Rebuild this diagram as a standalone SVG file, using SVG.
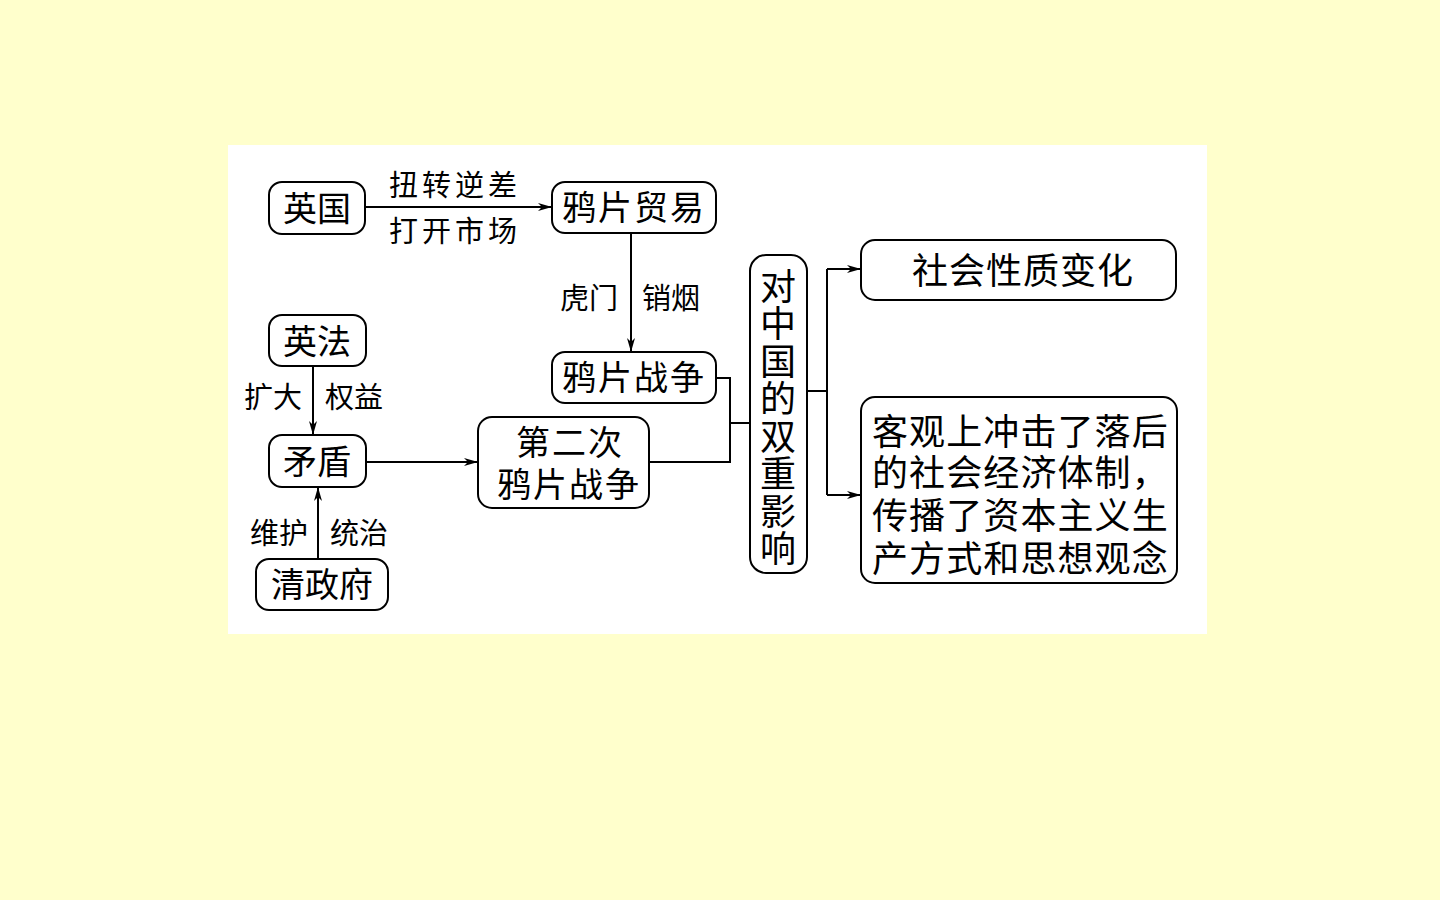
<svg xmlns="http://www.w3.org/2000/svg" width="1440" height="900" viewBox="0 0 1440 900">
  <defs>
    <marker id="arr" viewBox="0 0 14 8" refX="14" refY="4" markerWidth="14" markerHeight="8" markerUnits="userSpaceOnUse" orient="auto">
      <path d="M0,0 L14,4 L0,8 L4,4 Z" fill="#000"/>
    </marker>
    <style>
      .box { fill: #fff; stroke: #000; stroke-width: 2; }
      .t { font-family: "Noto Sans CJK SC", "Noto Sans", sans-serif; fill: #000; text-anchor: middle; }
      .n { font-size: 34px; }
      .l { font-size: 29px; }
      .b { font-size: 36px; }
      .ln { fill: none; stroke: #000; stroke-width: 2; }
    </style>
  </defs>

  <rect x="0" y="0" width="1440" height="900" fill="#FFFFCC"/>
  <rect x="228" y="145" width="979" height="489" fill="#fff"/>

  <!-- connectors -->
  <g id="connectors">
    <line class="ln" x1="366" y1="207" x2="552" y2="207" marker-end="url(#arr)"/>
    <line class="ln" x1="631" y1="233" x2="631" y2="352" marker-end="url(#arr)"/>
    <line class="ln" x1="313" y1="366" x2="313" y2="435" marker-end="url(#arr)"/>
    <line class="ln" x1="318" y1="559" x2="318" y2="487" marker-end="url(#arr)"/>
    <line class="ln" x1="366" y1="462" x2="478" y2="462" marker-end="url(#arr)"/>
    <polyline class="ln" points="716,378 730,378 730,462 649,462"/>
    <line class="ln" x1="730" y1="423" x2="750" y2="423"/>
    <line class="ln" x1="807" y1="391" x2="827" y2="391"/>
    <line class="ln" x1="827" y1="269" x2="827" y2="495"/>
    <line class="ln" x1="827" y1="269" x2="861" y2="269" marker-end="url(#arr)"/>
    <line class="ln" x1="827" y1="495" x2="861" y2="495" marker-end="url(#arr)"/>
  </g>

  <!-- connector labels -->
  <g id="labels" class="t l">
    <text x="455" y="196" letter-spacing="4">扭转逆差</text>
    <text x="455" y="242" letter-spacing="4">打开市场</text>
    <text x="589" y="309">虎门</text>
    <text x="671" y="309">销烟</text>
    <text x="273" y="408">扩大</text>
    <text x="354" y="408">权益</text>
    <text x="279" y="544">维护</text>
    <text x="359" y="544">统治</text>
  </g>

  <g id="britain">
    <rect class="box" x="269" y="182" width="96" height="52" rx="13"/>
    <text class="t n" x="317" y="221">英国</text>
  </g>

  <g id="opium-trade">
    <rect class="box" x="552" y="182" width="164" height="51" rx="13"/>
    <text class="t n" x="634" y="220" letter-spacing="2">鸦片贸易</text>
  </g>

  <g id="opium-war">
    <rect class="box" x="552" y="352" width="164" height="51" rx="13"/>
    <text class="t n" x="634" y="390" letter-spacing="2">鸦片战争</text>
  </g>

  <g id="britain-france">
    <rect class="box" x="269" y="315" width="97" height="51" rx="13"/>
    <text class="t n" x="317" y="354">英法</text>
  </g>

  <g id="conflict">
    <rect class="box" x="269" y="435" width="97" height="52" rx="13"/>
    <text class="t n" x="317" y="474">矛盾</text>
  </g>

  <g id="qing">
    <rect class="box" x="256" y="559" width="132" height="51" rx="13"/>
    <text class="t n" x="322" y="597">清政府</text>
  </g>

  <g id="second-opium-war">
    <rect class="box" x="478" y="417" width="171" height="91" rx="14"/>
    <text class="t n" x="570" y="455" letter-spacing="2">第二次</text>
    <text class="t n" x="569" y="497" letter-spacing="2">鸦片战争</text>
  </g>

  <g id="dual-impact">
    <rect class="box" x="750" y="255" width="57" height="318" rx="16"/>
    <text class="t b" x="778" y="418" writing-mode="vertical-rl" style="writing-mode:vertical-rl" letter-spacing="1.5">对中国的双重影响</text>
  </g>

  <g id="social-change">
    <rect class="box" x="861" y="240" width="315" height="60" rx="14"/>
    <text class="t b" x="1023" y="284" letter-spacing="1">社会性质变化</text>
  </g>

  <g id="positive-impact">
    <rect class="box" x="861" y="397" width="316" height="186" rx="14"/>
    <text class="t b" style="text-anchor:start" letter-spacing="1.1">
      <tspan x="872" y="445">客观上冲击了落后</tspan>
      <tspan x="872" y="486">的社会经济体制，</tspan>
      <tspan x="872" y="529">传播了资本主义生</tspan>
      <tspan x="872" y="572">产方式和思想观念</tspan>
    </text>
  </g>
</svg>
